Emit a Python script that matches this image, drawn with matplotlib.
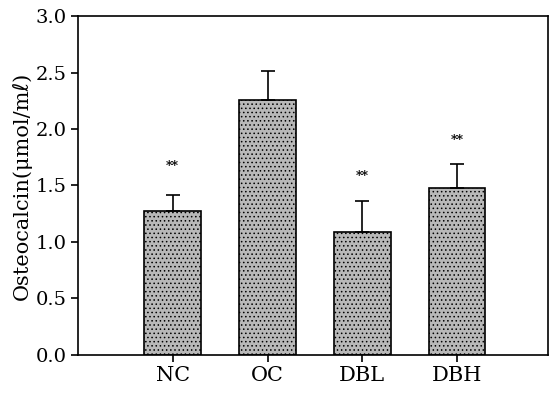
import matplotlib
matplotlib.use("Agg")
import matplotlib.pyplot as plt
import numpy as np

categories = ["NC", "OC", "DBL", "DBH"]
means = [1.27, 2.26, 1.085, 1.48]
errors = [0.15, 0.25, 0.28, 0.21]
stars = ["**", "", "**", "**"]
star_y = [1.67, None, 1.58, 1.90]

plt.rcParams['font.family'] = ['DejaVu Serif', 'DejaVu Sans']
plt.rcParams['hatch.color'] = '#8c8c8c'
plt.rcParams['hatch.linewidth'] = 0.6

fig = plt.figure(figsize=(5.53, 3.93), dpi=100)
ax = fig.add_axes([0.141, 0.097, 0.850, 0.862])

x = np.arange(len(categories))
ax.bar(x, means, width=0.6, color="#b8b8b8", edgecolor="black", linewidth=1.2,
       hatch="....", zorder=2)
ax.errorbar(x, means, yerr=[np.zeros(len(means)), errors], fmt="none",
            ecolor="black", elinewidth=1.2, capsize=5, capthick=1.2, zorder=3)
for xi, s, sy in zip(x, stars, star_y):
    if s:
        ax.text(xi, sy, s, ha="center", va="center", fontsize=9, fontweight="bold")

ax.set_xlim(-1, 3.96)
ax.set_ylim(0, 3.0)
ticks = np.arange(0, 3.01, 0.5)
ax.set_yticks(ticks)
ax.set_yticklabels([f"{v:.1f}" for v in ticks], fontsize=14)
ax.set_xticks(x)
ax.set_xticklabels(categories, fontsize=15)
ax.tick_params(direction="out", length=5, width=1.2, pad=3)
for sp in ax.spines.values():
    sp.set_linewidth(1.2)
ax.set_ylabel("Osteocalcin(μmol/mℓ)", fontsize=15, labelpad=3)

fig.savefig("out.png", dpi=100)
